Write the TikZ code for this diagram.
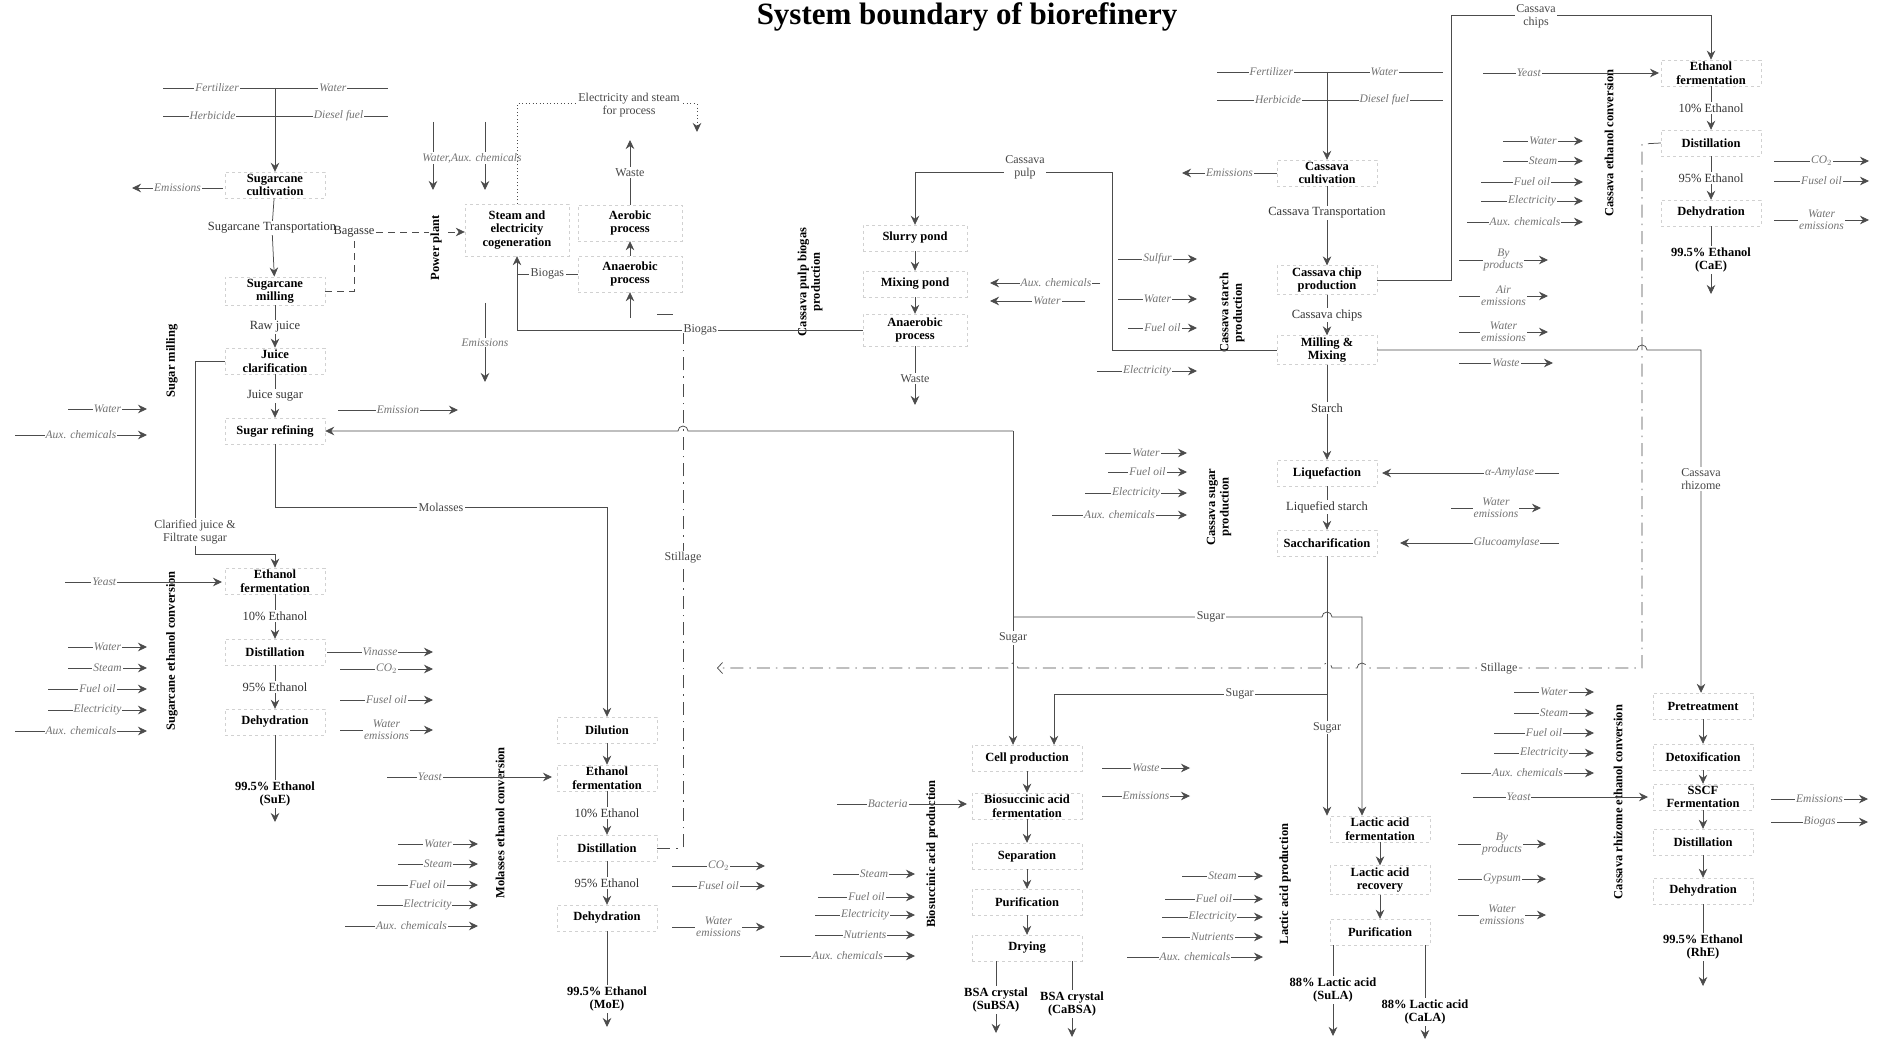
\documentclass[tikz,border=0pt]{standalone}
\usepackage{fontspec}
\setmainfont{Liberation Serif}
\usetikzlibrary{arrows.meta}

% side input/output arrow: [label pos]{name}{x from}{x to}{y}{label}
\newcommand{\sideflow}[6][0.5]{%
  \coordinate (#2a) at (#3,#5);
  \coordinate (#2b) at (#4,#5);
  \draw[arr] (#2a) -- node[inlbl,pos=#1]{#6} (#2b);}

\begin{document}
\begin{tikzpicture}[
    x=1pt, y=-1pt,
    flowln/.style={draw=black!70, line width=0.75pt},
    arr/.style={flowln, -{Stealth[length=9pt,width=8.5pt]}},
    dotln/.style={flowln, line width=1pt, dash pattern=on 1pt off 2.5pt},
    dashln/.style={flowln, dash pattern=on 7pt off 5pt},
    stillln/.style={flowln, dash pattern=on 13pt off 6pt on 1.5pt off 6pt},
    proc/.style={draw=black!18, dashed, font=\fontsize{12.5}{13.5}\selectfont\bfseries,
                 align=center, minimum width=100pt, minimum height=26pt, inner sep=2pt},
    midlbl/.style={font=\fontsize{12.5}{13.5}\selectfont, text=black!80, align=center, inner sep=1.5pt},
    prod/.style={font=\fontsize{12.5}{13.5}\selectfont\bfseries, align=center, inner sep=1.5pt},
    inlbl/.style={font=\fontsize{11.5}{12}\selectfont\itshape, text=black!55, fill=white,
                  align=center, inner sep=1pt},
    lbl/.style={font=\fontsize{12}{13}\selectfont, text=black!72, fill=white, align=center, inner sep=1.5pt},
    seclbl/.style={font=\fontsize{12.5}{13.5}\selectfont\bfseries, rotate=90, align=center, inner sep=1pt}
  ]
  \useasboundingbox (0,0) rectangle (1886,1040);
  \fill[white] (0,0) rectangle (1886,1040);

  \node[font=\fontsize{31}{33}\selectfont\bfseries] (title) at (967,17) {System boundary of biorefinery};

  % ---- sugarcane: cultivation and sugar milling
  \coordinate (sfL) at (163,88);  \coordinate (sfR) at (388,88);
  \coordinate (shL) at (163,116); \coordinate (shR) at (388,116);
  \coordinate (sfJ) at (275,88);
  \draw[flowln] (sfL) -- node[inlbl,pos=.24]{Fertilizer} node[inlbl,pos=.755]{Water} (sfR);
  \draw[flowln] (shL) -- node[inlbl,pos=.22]{Herbicide} node[inlbl,pos=.78]{Diesel fuel} (shR);

  \node[proc] (scCult) at (275,185) {Sugarcane\\cultivation};
  \node[midlbl] (scTrans) at (272,228) {Sugarcane Transportation};
  \node[proc] (scMill) at (275,291) {Sugarcane\\milling};
  \node[midlbl] (scRaw) at (275,327) {Raw juice};
  \node[proc] (scClar) at (275,361) {Juice\\clarification};
  \node[midlbl] (scJuice) at (275,396) {Juice sugar};
  \node[proc] (scRef) at (275,431) {Sugar refining};
  \node[lbl] (scCj) at (195,532) {Clarified juice \&\\Filtrate sugar};
  \node[seclbl] (scSec1) at (172,361) {Sugar milling};

  \draw[arr] (sfJ) -- (scCult);
  \draw[flowln] (scCult) -- (scTrans);
  \draw[arr] (scTrans) -- (scMill);
  \draw[flowln] (scMill) -- (scRaw);
  \draw[arr] (scRaw) -- (scClar);
  \draw[flowln] (scClar) -- (scJuice);
  \draw[arr] (scJuice) -- (scRef);
  \draw[flowln] (scClar.west) -| (scCj.north);

  \sideflow{scEm}{223}{132}{188}{Emissions}
  \sideflow{srW}{68}{147}{409}{Water}
  \sideflow{srA}{15}{147}{435}{Aux. chemicals}
  \sideflow{srE}{338}{458}{410}{Emission}

  % ---- power plant
  \node[proc, minimum width=104pt, minimum height=52pt] (cog) at (517,230) {Steam and\\electricity\\cogeneration};
  \node[proc, minimum width=104pt, minimum height=36pt] (aer) at (630,223) {Aerobic\\process};
  \node[proc, minimum width=104pt, minimum height=36pt] (ana) at (630,274) {Anaerobic\\process};
  \node[midlbl] (bag) at (354,232) {Bagasse};

  \draw[dashln, -{Stealth[length=9pt,width=8.5pt]}] (bag.east) -- (bag.east -| cog.west);
  \draw[dashln] (scMill.east) -| (bag.south);
  \node[seclbl, fill=white] (pp) at (436,248) {Power plant};

  \coordinate (wa1a) at (433,122); \coordinate (wa1b) at (433,190);
  \coordinate (wa2a) at (485,122); \coordinate (wa2b) at (485,190);
  \draw[arr] (wa1a) -- (wa1b);
  \draw[arr] (wa2a) -- (wa2b);
  \node[inlbl] (waLbl) at (472,158) {Water,Aux. chemicals};

  \coordinate (esA) at (697,104); \coordinate (esB) at (697,132);
  \draw[dotln, -{Stealth[length=9pt,width=8.5pt]}] (cog.north) |- (esA) -- (esB);
  \node[lbl] (esLbl) at (629,105) {Electricity and steam\\for process};

  \coordinate (wsT) at (630,140);
  \draw[arr] (aer) -- node[lbl]{Waste} (wsT);
  \draw[arr] (ana) -- (aer);
  \coordinate (anaIn) at (630,318);
  \draw[arr] (anaIn) -- (ana);
  \coordinate (anaS1) at (657,314); \coordinate (anaS2) at (673,314);
  \draw[flowln] (anaS1) -- (anaS2);
  \draw[flowln] (ana.west) -- node[lbl]{Biogas} (ana.west -| cog.south);

  \coordinate (cgEa) at (485,303); \coordinate (cgEb) at (485,382);
  \draw[arr] (cgEa) -- node[inlbl]{Emissions} (cgEb);

  % ---- cassava pulp biogas
  \node[proc, minimum width=104pt] (slp) at (915,238) {Slurry pond};
  \node[proc, minimum width=104pt] (mxp) at (915,284) {Mixing pond};
  \node[proc, minimum width=104pt, minimum height=32pt] (cana) at (915,330) {Anaerobic\\process};
  \node[seclbl] (cpSec) at (810,282) {Cassava pulp biogas\\production};
  \draw[arr] (slp) -- (mxp);
  \draw[arr] (mxp) -- (cana);
  \coordinate (cwB) at (915,405);
  \draw[arr] (cana) -- node[lbl,pos=0.55]{Waste} (cwB);
  \coordinate (bgA) at (517,330);
  \draw[flowln] (cana.west) -- node[lbl,pos=0.47]{Biogas} (bgA);
  \draw[arr] (bgA) -- (cog.south);
  \sideflow[0.4]{cpA}{1100}{990}{283}{Aux. chemicals}
  \sideflow[0.4]{cpW}{1085}{990}{301}{Water}

  % ---- cassava: cultivation, starch and sugar
  \coordinate (cfL) at (1217,72);  \coordinate (cfR) at (1443,72);
  \coordinate (chL) at (1217,100); \coordinate (chR) at (1443,100);
  \coordinate (cfJ) at (1327,72);
  \draw[flowln] (cfL) -- node[inlbl,pos=.24]{Fertilizer} node[inlbl,pos=.74]{Water} (cfR);
  \draw[flowln] (chL) -- node[inlbl,pos=.27]{Herbicide} node[inlbl,pos=.74]{Diesel fuel} (chR);

  \node[proc] (ccCult) at (1327,173) {Cassava\\cultivation};
  \node[midlbl] (ccTrans) at (1327,213) {Cassava Transportation};
  \node[proc] (ccChip) at (1327,280) {Cassava chip\\production};
  \node[midlbl] (ccChips) at (1327,315) {Cassava chips};
  \node[proc] (ccMill) at (1327,350) {Milling \&\\Mixing};
  \node[midlbl] (ccStarch) at (1327,408) {Starch};
  \node[proc] (ccLiq) at (1327,473) {Liquefaction};
  \node[midlbl] (ccLs) at (1327,507) {Liquefied starch};
  \node[proc] (ccSac) at (1327,543) {Saccharification};
  \node[seclbl] (csSec) at (1232,313) {Cassava starch\\production};
  \node[seclbl] (cgSec) at (1219,507) {Cassava sugar\\production};

  \draw[arr] (cfJ) -- (ccCult);
  \draw[flowln] (ccCult) -- (ccTrans);
  \draw[arr] (ccTrans) -- (ccChip);
  \draw[flowln] (ccChip) -- (ccChips);
  \draw[arr] (ccChips) -- (ccMill);
  \draw[flowln] (ccMill) -- (ccStarch);
  \draw[arr] (ccStarch) -- (ccLiq);
  \draw[flowln] (ccLiq) -- (ccLs);
  \draw[arr] (ccLs) -- (ccSac);

  \coordinate (cpR) at (1112,172); \coordinate (cpL) at (915,172);
  \draw[arr] (ccMill.west) -| (cpR) -- (cpL) -- (slp.north);
  \node[lbl] (cpLbl) at (1025,167) {Cassava\\pulp};

  \sideflow{ccEm}{1277}{1182}{173}{Emissions}
  \sideflow{spS}{1118}{1197}{259}{Sulfur}
  \sideflow{spW}{1118}{1197}{299}{Water}
  \sideflow{spF}{1128}{1197}{328}{Fuel oil}
  \sideflow{spE}{1097}{1197}{371}{Electricity}
  \sideflow{sgW}{1105}{1187}{453}{Water}
  \sideflow{sgF}{1108}{1187}{472}{Fuel oil}
  \sideflow{sgE}{1085}{1187}{493}{Electricity}
  \sideflow{sgX}{1052}{1187}{515}{Aux. chemicals}
  \sideflow[0.28]{sgAm}{1559}{1382}{473}{α-Amylase}
  \sideflow[0.33]{sgGl}{1559}{1400}{543}{Glucoamylase}
  \sideflow{sgWe}{1451}{1541}{508}{Water\\emissions}

  % ---- cassava ethanol conversion
  \node[proc] (ceFerm) at (1711,73) {Ethanol\\fermentation};
  \node[midlbl] (ce10) at (1711,108) {10\% Ethanol};
  \node[proc] (ceDist) at (1711,143) {Distillation};
  \node[midlbl] (ce95) at (1711,178) {95\% Ethanol};
  \node[proc] (ceDeh) at (1711,213) {Dehydration};
  \node[prod] (ceEth) at (1711,260) {99.5\% Ethanol\\(CaE)};
  \coordinate (ceOut) at (1711,294);
  \node[seclbl] (ceSec) at (1609,143) {Cassava ethanol conversion};
  \draw[flowln] (ceFerm) -- (ce10);
  \draw[arr] (ce10) -- (ceDist);
  \draw[flowln] (ceDist) -- (ce95);
  \draw[arr] (ce95) -- (ceDeh);
  \draw[flowln] (ceDeh) -- (ceEth);
  \draw[arr] (ceEth) -- (ceOut);

  \coordinate (ccA) at (1451,15);
  \draw[arr] (ccChip.east) -| (ccA) -| (ceFerm.north);
  \node[lbl] (ccLbl) at (1536,16) {Cassava\\chips};

  \sideflow[0.26]{ceY}{1483}{1659}{73}{Yeast}
  \sideflow{ceW}{1503}{1583}{141}{Water}
  \sideflow{ceS}{1503}{1583}{161}{Steam}
  \sideflow{ceF}{1481}{1583}{182}{Fuel oil}
  \sideflow{ceE}{1481}{1583}{201}{Electricity}
  \sideflow{ceX}{1467}{1583}{222}{Aux. chemicals}
  \sideflow{ceC}{1774}{1869}{161}{CO$_2$}
  \sideflow{ceFu}{1774}{1869}{181}{Fusel oil}
  \sideflow{ceWe}{1774}{1869}{220}{Water\\emissions}
  \sideflow{cbP}{1459}{1548}{260}{By\\products}
  \sideflow{cbA}{1459}{1548}{296}{Air\\emissions}
  \sideflow{cbW}{1459}{1548}{332}{Water\\emissions}
  \sideflow{cbWs}{1459}{1553}{363}{Waste}

  % ---- sugarcane ethanol conversion
  \node[proc] (scFerm) at (275,581) {Ethanol\\fermentation};
  \node[midlbl] (sc10) at (275,616) {10\% Ethanol};
  \node[proc] (scDist) at (275,652) {Distillation};
  \node[midlbl] (sc95) at (275,687) {95\% Ethanol};
  \node[proc] (scDeh) at (275,722) {Dehydration};
  \node[prod] (scEth) at (275,794) {99.5\% Ethanol\\(SuE)};
  \coordinate (scOut) at (275,822);
  \node[seclbl] (scSec2) at (172,651) {Sugarcane ethanol conversion};
  \draw[arr] (scCj.south) -- ++(0,9) -| (scFerm.north);
  \draw[flowln] (scFerm) -- (sc10);
  \draw[arr] (sc10) -- (scDist);
  \draw[flowln] (scDist) -- (sc95);
  \draw[arr] (sc95) -- (scDeh);
  \draw[flowln] (scDeh) -- (scEth);
  \draw[arr] (scEth) -- (scOut);

  \sideflow[0.25]{seY}{65}{222}{582}{Yeast}
  \sideflow{seW}{68}{147}{647}{Water}
  \sideflow{seS}{68}{147}{668}{Steam}
  \sideflow{seF}{48}{147}{689}{Fuel oil}
  \sideflow{seE}{48}{147}{710}{Electricity}
  \sideflow{seA}{15}{147}{731}{Aux. chemicals}
  \sideflow{seV}{327}{433}{652}{Vinasse}
  \sideflow{seC}{340}{433}{669}{CO$_2$}
  \sideflow{seFu}{340}{433}{700}{Fusel oil}
  \sideflow{seWe}{340}{433}{730}{Water\\emissions}

  % ---- molasses ethanol conversion
  \node[proc] (moDil) at (607,730) {Dilution};
  \node[proc] (moFerm) at (607,778) {Ethanol\\fermentation};
  \node[midlbl] (mo10) at (607,813) {10\% Ethanol};
  \node[proc] (moDist) at (607,848) {Distillation};
  \node[midlbl] (mo95) at (607,883) {95\% Ethanol};
  \node[proc] (moDeh) at (607,918) {Dehydration};
  \node[prod] (moEth) at (607,999) {99.5\% Ethanol\\(MoE)};
  \coordinate (moOut) at (607,1027);
  \node[seclbl] (moSec) at (500,823) {Molasses ethanol conversion};
  \draw[arr] (moDil) -- (moFerm);
  \draw[flowln] (moFerm) -- (mo10);
  \draw[arr] (mo10) -- (moDist);
  \draw[flowln] (moDist) -- (mo95);
  \draw[arr] (mo95) -- (moDeh);
  \draw[flowln] (moDeh) -- (moEth);
  \draw[arr] (moEth) -- (moOut);

  \coordinate (molC) at (607,507);
  \draw[arr] (scRef.south) |- node[lbl,pos=0.75]{Molasses} (molC) -- (moDil.north);

  \sideflow[0.26]{meY}{387}{552}{777}{Yeast}
  \sideflow{meW}{398}{478}{844}{Water}
  \sideflow{meS}{398}{478}{864}{Steam}
  \sideflow{meF}{377}{478}{885}{Fuel oil}
  \sideflow{meE}{377}{478}{905}{Electricity}
  \sideflow{meA}{345}{478}{926}{Aux. chemicals}
  \sideflow{meC}{672}{765}{866}{CO$_2$}
  \sideflow{meFu}{672}{765}{886}{Fusel oil}
  \sideflow{meWe}{672}{765}{927}{Water\\emissions}

  \coordinate (ssA) at (683,848); \coordinate (ssB) at (683,333);
  \draw[stillln] (moDist.east) -- (ssA) -- (ssB);
  \node[lbl] (ssLbl) at (683,558) {Stillage};

  % ---- biosuccinic acid production
  \node[proc, minimum width=110pt] (bsCell) at (1027,758) {Cell production};
  \node[proc, minimum width=110pt] (bsFerm) at (1027,806) {Biosuccinic acid\\fermentation};
  \node[proc, minimum width=110pt] (bsSep) at (1027,856) {Separation};
  \node[proc, minimum width=110pt] (bsPur) at (1027,902) {Purification};
  \node[proc, minimum width=110pt] (bsDry) at (1027,948) {Drying};
  \node[prod] (bsSu) at (996,1000) {BSA crystal\\(SuBSA)};
  \node[prod] (bsCa) at (1072,1004) {BSA crystal\\(CaBSA)};
  \coordinate (bsSuOut) at (996,1033); \coordinate (bsCaOut) at (1072,1037);
  \node[seclbl] (bsSec) at (932,854) {Biosuccinic acid production};
  \draw[arr] (bsCell) -- (bsFerm);
  \draw[arr] (bsFerm) -- (bsSep);
  \draw[arr] (bsSep) -- (bsPur);
  \draw[arr] (bsPur) -- (bsDry);
  \draw[flowln] (bsDry.south -| bsSu.north) -- (bsSu.north);
  \draw[flowln] (bsDry.south -| bsCa.north) -- (bsCa.north);
  \draw[arr] (bsSu) -- (bsSuOut);
  \draw[arr] (bsCa) -- (bsCaOut);

  \sideflow[0.39]{bsB}{837}{967}{804}{Bacteria}
  \sideflow{bsS}{833}{915}{874}{Steam}
  \sideflow{bsF}{818}{915}{897}{Fuel oil}
  \sideflow{bsE}{815}{915}{915}{Electricity}
  \sideflow{bsN}{815}{915}{935}{Nutrients}
  \sideflow{bsA}{780}{915}{956}{Aux. chemicals}
  \sideflow{bsW}{1102}{1190}{768}{Waste}
  \sideflow{bsEm}{1102}{1190}{796}{Emissions}

  % ---- lactic acid production
  \node[proc] (laFerm) at (1380,829) {Lactic acid\\fermentation};
  \node[proc] (laRec) at (1380,880) {Lactic acid\\recovery};
  \node[proc] (laPur) at (1380,932) {Purification};
  \node[prod] (laSu) at (1333,990) {88\% Lactic acid\\(SuLA)};
  \node[prod] (laCa) at (1425,1012) {88\% Lactic acid\\(CaLA)};
  \coordinate (laSuOut) at (1333,1036); \coordinate (laCaOut) at (1425,1039);
  \node[seclbl] (laSec) at (1285,884) {Lactic acid production};
  \draw[arr] (laFerm) -- (laRec);
  \draw[arr] (laRec) -- (laPur);
  \draw[flowln] (laPur.south -| laSu.north) -- (laSu.north);
  \draw[flowln] (laPur.south -| laCa.north) -- (laCa.north);
  \draw[arr] (laSu) -- (laSuOut);
  \draw[arr] (laCa) -- (laCaOut);

  \sideflow{laS}{1182}{1263}{876}{Steam}
  \sideflow{laF}{1165}{1263}{899}{Fuel oil}
  \sideflow{laE}{1162}{1263}{917}{Electricity}
  \sideflow{laN}{1162}{1263}{937}{Nutrients}
  \sideflow{laA}{1127}{1263}{957}{Aux. chemicals}
  \sideflow{laB}{1458}{1546}{844}{By\\products}
  \sideflow{laG}{1458}{1546}{879}{Gypsum}
  \sideflow{laW}{1458}{1546}{915}{Water\\emissions}

  % ---- cassava rhizome ethanol conversion
  \node[proc] (rhPre) at (1703,706) {Pretreatment};
  \node[proc] (rhDet) at (1703,757) {Detoxification};
  \node[proc] (rhSscf) at (1703,797) {SSCF\\Fermentation};
  \node[proc] (rhDist) at (1703,842) {Distillation};
  \node[proc] (rhDeh) at (1703,891) {Dehydration};
  \node[prod] (rhEth) at (1703,947) {99.5\% Ethanol\\(RhE)};
  \coordinate (rhOut) at (1703,986);
  \node[seclbl] (rhSec) at (1618,802) {Cassava rhizome ethanol conversion};
  \draw[arr] (rhPre) -- (rhDet);
  \draw[arr] (rhDet) -- (rhSscf);
  \draw[arr] (rhSscf) -- (rhDist);
  \draw[arr] (rhDist) -- (rhDeh);
  \draw[flowln] (rhDeh) -- (rhEth);
  \draw[arr] (rhEth) -- (rhOut);

  \sideflow{rhW}{1514}{1594}{692}{Water}
  \sideflow{rhS}{1514}{1594}{713}{Steam}
  \sideflow{rhF}{1494}{1594}{733}{Fuel oil}
  \sideflow{rhE}{1494}{1594}{753}{Electricity}
  \sideflow{rhX}{1461}{1594}{773}{Aux. chemicals}
  \sideflow[0.26]{rhY}{1473}{1648}{797}{Yeast}
  \sideflow{rhEm}{1771}{1868}{799}{Emissions}
  \sideflow{rhB}{1771}{1868}{822}{Biogas}

  \coordinate (rhC) at (1701,350);
  \draw[arr] (ccMill.east) -- (1637,350) arc[start angle=180, end angle=360, radius=5]
        -- (rhC) -- (rhC |- rhPre.north);
  \node[lbl] (rhLbl) at (1701,479) {Cassava\\rhizome};

  % ---- sugar flows
  \coordinate (sugC) at (1013,431);
  \draw[arr] (sugC) -- (688,431) arc[start angle=0, end angle=-180, radius=5] -- (scRef.east);
  \draw[arr] (sugC) -- node[lbl,pos=0.66]{Sugar} (sugC |- bsCell.north);
  \coordinate (sgA) at (1013,617); \coordinate (sgB) at (1362,617);
  \draw[arr] (sgA) -- node[lbl,pos=0.64]{Sugar} (1322,617) arc[start angle=180, end angle=360, radius=5]
        -- (sgB) -- (sgB |- laFerm.north);
  \draw[arr] (ccSac.south) -- node[lbl,pos=0.66]{Sugar} (ccSac.south |- laFerm.north);
  \coordinate (sgC) at (1327,694); \coordinate (sgD) at (1054,694);
  \draw[arr] (sgC) -- node[lbl,pos=0.32]{Sugar} (sgD) -- (sgD |- bsCell.north);

  % ---- stillage back to the sugarcane side
  \coordinate (stA) at (1642,144); \coordinate (stB) at (1642,668); \coordinate (stC) at (717,668);
  \draw[stillln, -{Straight Barb[length=5pt,width=11pt]}] (ceDist.west) -- (stA) -- (stB)
        -- (1367,668) arc[start angle=0, end angle=-180, radius=5]
        -- (1332,668) arc[start angle=0, end angle=-180, radius=5]
        -- (1018,668) arc[start angle=0, end angle=-180, radius=5] -- (stC);
  \node[lbl] (stLbl) at (1499,669) {Stillage};
\end{tikzpicture}
\end{document}
